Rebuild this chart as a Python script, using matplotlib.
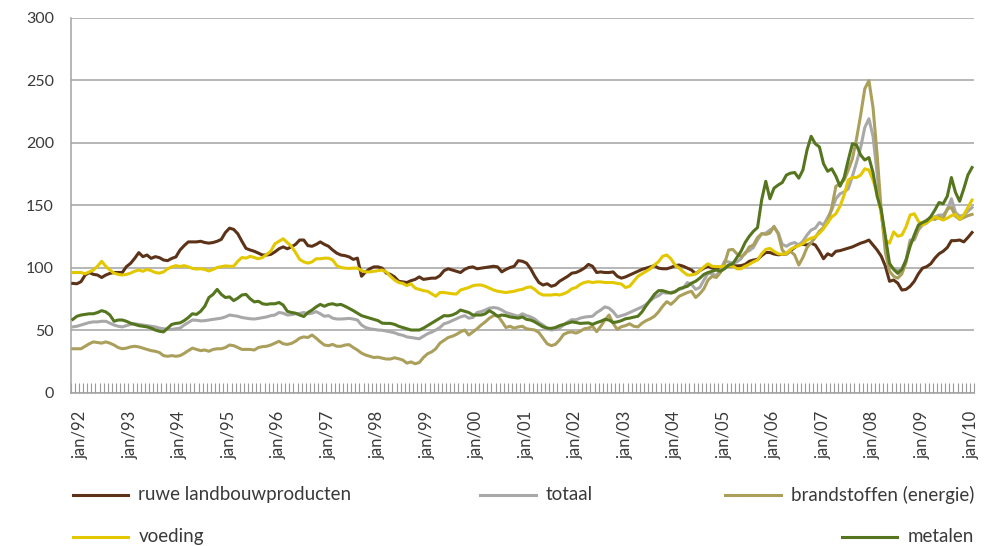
import matplotlib.pyplot as plt
from matplotlib.lines import Line2D
import numpy as np

plt.rcParams['font.family'] = ['Lato', 'DejaVu Sans']

# maandindex: 0 = jan/92, eerste waarde is nov/91, laatste jan/10
start_month = -2

ruwe = [87.3, 87,
        88.7, 94, 96, 94.5, 94, 92, 94, 95.3, 96, 96, 96, 100.7,               # 1992
        103.3, 107.3, 111.9, 108.7, 110, 107.3, 108.7, 107.9, 106, 105.5, 107.3, 108.5,
        114, 117.5, 120.5, 120.5, 120.5, 121, 120, 119.5, 120, 121, 122.5, 128,
        131.5, 130.5, 127, 121, 115.3, 114, 113, 111.5, 110, 110, 110.5, 112.5,  # 1995
        115, 116.5, 115, 116.5, 118.5, 122, 122, 117.5, 117, 118.5, 120.5, 118.5,
        117, 114, 111.5, 110, 109.5, 108.5, 106.5, 107.5, 93, 96.5, 99, 100.5,
        100.5, 99.5, 95.5, 94.5, 92.5, 89, 88.5, 88, 89.5, 90.5, 92.5, 90.5,
        91, 91.5, 91.5, 93.5, 97.5, 99, 98, 97, 96, 98.5, 100, 100.5,
        99, 99.5, 100, 100.5, 101, 100.5, 96.5, 98.5, 100, 101, 105.5, 105,     # 2000
        103.5, 99, 93, 88, 86, 87, 85, 86, 89, 91, 93, 95.5,
        96, 97.5, 99.5, 102.5, 101, 96, 96.5, 96, 96, 96.5, 93, 91.5,
        92.5, 94, 95.5, 97, 98.5, 99.5, 100.5, 101.5, 99.5, 99, 99, 100,
        101.5, 102, 101, 99.5, 98, 95, 97.5, 99.5, 101, 99.5, 99.3, 99.3,
        100.5, 101, 101.5, 101.3, 101.5, 102.5, 105, 106, 106.5, 109.5, 112, 112,  # 2005
        110.8, 110.2, 110.5, 111, 113.5, 116, 118.5, 118.5, 118, 119.5, 118, 113,
        107, 111, 109.5, 113, 113.5, 114.5, 115.5, 116.5, 118, 119.5, 120.5, 122,
        118, 114, 109, 101, 89, 90, 87.5, 82, 82.5, 85, 89, 95,
        99.5, 100.7, 103, 107.5, 111, 113, 116, 121.5, 121.5, 122, 120.5, 124,
        128]

voeding = [96, 96,
           96, 95, 96.5, 98, 101, 105, 101, 98, 95.5, 94.5, 94, 94.5,
           95.5, 97, 98, 97, 98.5, 97.5, 96, 95.5, 96.5, 99, 100.5, 101.5,
           100.8, 101.5, 100.5, 99.3, 98.8, 99, 98.5, 97.2, 98.5, 100, 100.7, 101.3,
           101, 101, 105, 108, 107.5, 109, 108, 107, 108, 110.5, 113, 119,
           121, 123, 120, 117, 112, 106.5, 104.5, 103.5, 104.5, 107, 107, 107.5,
           107.5, 106, 101.5, 100, 99.5, 99.3, 99.5, 99.5, 97.5, 96.5, 96.5, 97,
           97.5, 98, 96.5, 93, 90, 88, 87.3, 85.5, 87, 83.5, 82.5, 81.5,
           81, 79, 77, 80, 80, 79.5, 79, 78.8, 82, 83, 84, 85.5,
           86, 86, 85, 83.5, 82, 81, 80.5, 80, 80.5, 81, 82, 82.5,
           84, 84.5, 82.5, 79.5, 78, 78, 78, 78.5, 78, 79, 80.5, 83,
           84, 86.5, 88, 88.7, 88, 88.5, 88.5, 88, 88, 88, 87.3, 86.8,
           84, 85, 89, 93, 95, 97, 99, 102, 104.7, 109, 110, 107,
           102, 99.5, 96.5, 94, 94, 95, 97.5, 100.5, 103, 101, 100.7, 100.7,
           101, 101.2, 101.2, 99, 99, 101, 102.5, 104.5, 106, 111, 114.5, 115.3,
           113, 111, 110.5, 111.3, 114.5, 116.3, 117.5, 119, 122, 123.5, 124.5, 127.5,
           131, 136, 140.5, 143, 149, 158, 170, 172, 172, 174, 179, 178,
           170, 159, 143, 122, 119.5, 128.5, 125, 126, 132.5, 142, 143, 137,
           134, 136, 138, 140.5, 139.3, 138, 139.5, 141.5, 142.5, 138.5, 142, 148,
           154]

totaal = [52.5, 53,
          54, 55, 56, 56.5, 56.5, 57, 57, 55.5, 54, 53, 52.5, 53.5,
          54.5, 55, 54.5, 54, 53.5, 53, 52.5, 51.5, 51, 50.5, 50.5, 51,
          51.5, 54, 56, 58, 57.8, 57.3, 57.5, 58, 58.5, 59, 59.5, 60.5,
          62, 61.5, 61, 60, 59.5, 59, 58.8, 59.3, 59.9, 60.5, 61.5, 62,
          64, 63.5, 62, 62.3, 63, 63.3, 64, 63, 63.5, 64.7, 63, 61,
          61.5, 59.5, 58.8, 58.8, 59, 59.3, 58.8, 58, 54, 52, 51, 50.5,
          50, 49.8, 49.2, 48.5, 47.8, 46.5, 45.8, 44.5, 44, 43.5, 43, 45,
          47, 48.3, 50, 52, 55, 56, 57.5, 59, 60.5, 61.5, 59.5, 60,
          64, 64.7, 66, 67.5, 68, 67.5, 66, 64, 63, 62, 61, 63,
          61.5, 60.5, 58.8, 56, 54, 51.5, 50, 50.5, 51.5, 54, 56.5, 58.3,
          58.2, 59.5, 60.3, 60.7, 61, 64, 66, 68.5, 67.5, 64.7, 60.5, 61.5,
          62.5, 64, 65.5, 67, 68.5, 70.5, 73.5, 76, 77.5, 80, 79.5, 80,
          81, 82.5, 83.5, 88, 86.5, 82.5, 84, 90, 95.5, 95, 93.5, 98,
          105, 104.5, 103.5, 104.5, 107, 112, 113.5, 116, 122, 127, 127.5, 130,
          132, 128, 118.5, 117, 119, 120, 118, 121, 126, 130, 131.5, 136,
          134, 140, 146, 155, 159, 160.5, 163, 173, 184, 196, 212, 219,
          205, 175, 143, 120, 100.5, 99.3, 97.5, 98.5, 106, 122, 122, 130,
          134, 135.5, 139, 140.5, 142, 142, 146, 155, 144, 141, 142, 145,
          148]

brandstoffen = [35, 35,
                35, 37, 39, 40.5, 40, 39.5, 40.5, 39.5, 38, 36, 35, 35.5,
                36.5, 37, 36.5, 35.5, 34.5, 33.5, 33, 32, 29.5, 29, 29.5, 29,
                29.5, 31.3, 33.5, 35.5, 34.5, 33.5, 34, 33, 34.5, 35, 35, 36,
                38, 37.5, 36, 34.5, 34.5, 34.5, 34, 36, 36.7, 37, 38, 39.5,
                41, 39, 38.5, 39.3, 41, 43.5, 44.5, 44, 46, 43.5, 40.5, 38,
                37.5, 38.5, 37, 37, 38, 38.3, 36, 34, 31.5, 30, 29, 28,
                28.3, 27.5, 26.8, 26.8, 27.8, 27, 26, 23.5, 24.5, 23, 24, 28,
                31, 32.5, 35, 39.5, 41.8, 44, 45, 46.5, 48.5, 50, 46, 48.5,
                51, 54, 56.5, 59.5, 61.5, 61.5, 57, 52, 53, 51.5, 52.5, 53,
                51, 50.5, 50, 48, 43.5, 39, 37.5, 38.5, 42, 46.5, 48, 48.5,
                47.5, 49, 51, 51.5, 53, 48.7, 53, 58, 62, 55.3, 50.5, 52.7,
                53.5, 55, 53, 52.5, 55.5, 57.5, 59, 61, 64.5, 69, 72.7, 70.5,
                73.5, 77, 78.5, 80, 81, 76, 79, 83, 90, 93, 92, 96,
                103, 114, 114.5, 111, 108.7, 111, 116.5, 118, 124, 127, 126.5, 127.5,
                133, 127, 114, 110.5, 113, 110, 102, 108, 116, 120, 124, 129,
                132, 136, 148, 165, 167, 170, 178, 187, 203, 222, 243, 249.5,
                228, 190, 145, 112, 97, 93, 91.5, 95, 104, 120, 123, 131,
                135, 138, 139, 138.5, 140.5, 139, 147, 148, 141, 138.5, 140, 141.5,
                142.5]

metalen = [58.5, 61,
           62, 62.5, 63, 63, 64, 65.5, 64.5, 62, 57, 58, 58, 57,
           55.5, 54.5, 53.5, 53, 52.5, 51.5, 50, 49, 48.5, 51.5, 54.5, 55.3,
           55.7, 57.5, 60, 63, 62.5, 65, 69, 76, 78.5, 82.5, 78.5, 76,
           76.5, 73.5, 75.5, 78, 78.5, 75, 72.5, 73, 71, 70.5, 71, 71,
           72, 70, 65, 64, 63.5, 62, 60.8, 64, 66, 68.5, 70.5, 69,
           70.5, 71, 70, 70.5, 69, 67.3, 65.5, 63.5, 61.5, 60.5, 59.5, 58.5,
           57.5, 55.5, 55.3, 55.3, 54.5, 53, 52, 51, 50, 50, 50, 51.5,
           53.5, 55.5, 57.5, 59.5, 61.5, 61.3, 62, 63.5, 66, 65, 64, 62,
           62, 62, 63, 65.5, 63.5, 61, 62, 61.5, 60.5, 60, 59.5, 60.5,
           58.5, 58, 56.5, 54.5, 52.5, 51.5, 51.3, 52, 53.5, 54.5, 55.5, 56.5,
           56, 55.3, 55.5, 55.7, 54.5, 55.9, 57, 58.5, 58, 56, 56.5, 57.5,
           59, 59.5, 60.3, 61, 64.5, 69.5, 74, 78.5, 81.5, 81.5, 80.5, 79.5,
           80.5, 83, 84, 85, 87.5, 89, 91.5, 94.5, 96, 97, 98, 97,
           99, 102, 103, 108, 113, 120, 125, 129, 132, 154, 169, 155,
           163.5, 166, 168, 174, 175.5, 176, 171.5, 178, 194, 205, 199, 196.5,
           183, 177, 179, 173, 165, 172, 186, 199, 198, 190, 186, 188,
           176, 157, 146, 124.7, 103.3, 98.5, 95.3, 98.5, 106, 117, 126, 134,
           136, 137.5, 140.7, 146, 152, 151, 157, 172, 160, 153, 163, 174,
           180]

years = list(range(1992, 2011))
tick_labels = ['jan/%02d' % (y % 100) for y in years]

series = [('ruwe landbouwproducten', ruwe, '#5c3318'),
          ('totaal', totaal, '#a8a8a8'),
          ('brandstoffen (energie)', brandstoffen, '#ab9f5c'),
          ('voeding', voeding, '#e3c700'),
          ('metalen', metalen, '#55761f')]

months = np.arange(start_month, start_month + len(ruwe))

fig = plt.figure(figsize=(9.96, 5.46), dpi=100)
ax = fig.add_axes([0.071, 0.2811, 0.907, 0.6868])

for i, (name, vals, col) in enumerate(series):
    ax.plot(months, vals, color=col, lw=2.2, zorder=3 + i, solid_joinstyle='round')

ax.set_xlim(start_month - 0.5, months[-1] + 0.5)
ax.set_ylim(0, 300)
ax.set_yticks(range(0, 301, 50))
ax.yaxis.grid(True, color='#a3a3a3', lw=1.1)
ax.set_axisbelow(True)

for s in ['top', 'right']:
    ax.spines[s].set_visible(False)
for s in ['left', 'bottom']:
    ax.spines[s].set_color('#a3a3a3')
    ax.spines[s].set_linewidth(1.1)

ax.tick_params(axis='y', length=0, pad=12, labelsize=11.5, labelcolor='#3a3a3a')

ax.set_xticks([12 * k for k in range(len(years))])
ax.set_xticklabels(tick_labels, rotation=90, fontsize=12, color='#3a3a3a')
ax.set_xticks(np.arange(start_month - 0.5, months[-1] + 1, 1), minor=True)
ax.tick_params(axis='x', which='major', length=0, pad=13)
ax.tick_params(axis='x', which='minor', direction='in', length=7, width=0.8, color='#9a9a9a')

# legenda onder de grafiek
legend_pos = [('ruwe landbouwproducten', 0.073, 0.094),
              ('totaal', 0.482, 0.094),
              ('brandstoffen (energie)', 0.728, 0.094),
              ('voeding', 0.073, 0.017),
              ('metalen', 0.845, 0.017)]
colors = {name: col for name, vals, col in series}
for name, x0, y0 in legend_pos:
    fig.add_artist(Line2D([x0, x0 + 0.056], [y0, y0], color=colors[name], lw=2.2,
                          transform=fig.transFigure))
    fig.text(x0 + 0.066, y0, name, fontsize=13.5, color='#3a3a3a', va='center', ha='left')

plt.savefig('out.png', dpi=100)
